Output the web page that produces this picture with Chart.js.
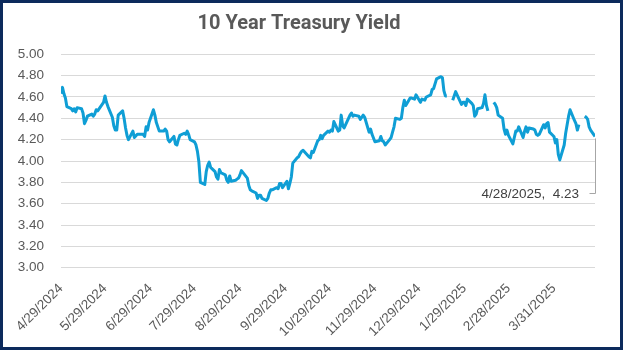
<!DOCTYPE html>
<html>
<head>
<meta charset="utf-8">
<script src="https://cdn.jsdelivr.net/npm/chart.js@4"></script>
<style>
  html, body { margin: 0; padding: 0; background: #fff; }
  #frame { width: 623px; height: 350px; box-sizing: border-box; border: 3px solid #0c2a5c; background: #fff; }
  canvas { display: block; }
</style>
</head>
<body>
<div id="frame"><canvas id="yieldChart" width="617" height="344"></canvas></div>
<script>
// first trading day of the sheet; each row below is one Mon-Fri week
const startDate = '4/29/2024';
const yields = [
  4.63, 4.69, 4.63, 4.59, 4.51,
  4.49, 4.47, 4.49, 4.46, 4.50,
  4.49, 4.45, 4.35, 4.38, 4.42,
  4.44, 4.42, 4.44, 4.48, 4.47,
  null, 4.55, 4.61, 4.55, 4.51,
  4.41, 4.33, 4.29, 4.29, 4.43,
  4.47, 4.40, 4.31, 4.24, 4.20,
  4.28, 4.22, null, 4.25, 4.25,
  4.25, 4.23, 4.32, 4.29, 4.36,
  4.48, 4.43, 4.36, null, 4.28,
  4.28, 4.30, 4.28, 4.20, 4.18,
  4.23, 4.16, 4.15, 4.20, 4.24,
  4.26, 4.25, 4.28, 4.25, 4.20,
  4.18, 4.15, 4.09, 3.99, 3.80,
  3.78, 3.90, 3.96, 3.99, 3.94,
  3.90, 3.85, 3.83, 3.92, 3.89,
  3.87, 3.82, 3.80, 3.86, 3.81,
  3.82, 3.83, 3.84, 3.87, 3.91,
  null, 3.84, 3.77, 3.73, 3.72,
  3.70, 3.65, 3.68, 3.68, 3.65,
  3.63, 3.65, 3.70, 3.73, 3.73,
  3.75, 3.74, 3.79, 3.79, 3.75,
  3.81, 3.74, 3.79, 3.85, 3.98,
  4.03, 4.04, 4.07, 4.09, 4.10,
  null, 4.04, 4.03, 4.09, 4.08,
  4.19, 4.20, 4.24, 4.21, 4.24,
  4.28, 4.27, 4.29, 4.28, 4.37,
  4.28, 4.29, 4.43, 4.33, 4.31,
  null, 4.43, 4.45, 4.42, 4.43,
  4.42, 4.39, 4.41, 4.43, 4.41,
  4.27, 4.30, 4.25, null, 4.18,
  4.19, 4.23, 4.19, 4.18, 4.15,
  4.20, 4.22, 4.27, 4.32, 4.40,
  4.39, 4.40, 4.50, 4.57, 4.52,
  4.59, 4.59, null, 4.58, 4.62,
  4.55, 4.58, null, 4.57, 4.60,
  4.62, 4.67, 4.68, null, 4.77,
  4.79, 4.78, 4.66, 4.61, 4.61,
  null, 4.57, 4.61, 4.65, 4.62,
  4.53, 4.55, 4.55, 4.52, 4.58,
  4.54, 4.52, 4.42, 4.44, 4.49,
  4.50, 4.54, 4.62, 4.52, 4.47,
  null, 4.55, 4.53, 4.50, 4.43,
  4.40, 4.30, 4.25, 4.29, 4.24,
  4.16, 4.22, 4.28, 4.28, 4.32,
  4.22, 4.28, 4.32, 4.27, 4.31,
  4.30, 4.29, 4.25, 4.24, 4.25,
  4.34, 4.31, 4.35, 4.36, 4.27,
  4.23, 4.17, 4.20, 4.06, 4.01,
  4.15, 4.26, 4.34, 4.42, 4.48,
  4.38, 4.35, 4.29, 4.34, null,
  4.42, 4.41, 4.39, 4.32, 4.29,
  4.23
];
// blank rows that break the line; other closed days are not in the sheet
const gapDates = ['1/20/2025', '2/17/2025', '4/18/2025'];
const tickLabels = ['4/29/2024', '5/29/2024', '6/29/2024', '7/29/2024', '8/29/2024', '9/29/2024',
  '10/29/2024', '11/29/2024', '12/29/2024', '1/29/2025', '2/28/2025', '3/31/2025'];

const DAY = 864e5;
const lineColor = '#0f9ed5';
const textGray = '#595959';
const tickFont = { family: 'Liberation Sans', size: 13.5 };

function parseDate(s) {
  const [m, d, y] = s.split('/').map(Number);
  return Date.UTC(y, m - 1, d);
}
function fmtDate(t) {
  const d = new Date(t);
  return (d.getUTCMonth() + 1) + '/' + d.getUTCDate() + '/' + d.getUTCFullYear();
}

const t0 = parseDate(startDate);
const points = [];
yields.forEach((v, i) => {
  const day = Math.floor(i / 5) * 7 + (i % 5);
  if (v === null && !gapDates.includes(fmtDate(t0 + day * DAY))) return;
  points.push({ x: day, y: v });
});
const lastPoint = points[points.length - 1];
const tickDays = tickLabels.map(s => Math.round((parseDate(s) - t0) / DAY));

// label + leader line for the most recent reading
const endLabel = {
  id: 'endLabel',
  afterDatasetsDraw(chart) {
    const meta = chart.getDatasetMeta(0);
    const el = meta.data[meta.data.length - 1];
    const ctx = chart.ctx;
    const lx = Math.round(el.x) + 0.5;
    const ey = Math.round(el.y + 56.8) + 0.5;
    ctx.save();
    ctx.strokeStyle = '#a6a6a6';
    ctx.lineWidth = 1;
    ctx.beginPath();
    ctx.moveTo(lx, el.y + 2);
    ctx.lineTo(lx, ey);
    ctx.lineTo(lx - 6, ey);
    ctx.stroke();
    ctx.font = '13.5px "Liberation Sans"';
    ctx.fillStyle = '#404040';
    ctx.textAlign = 'right';
    ctx.textBaseline = 'middle';
    ctx.fillText(fmtDate(t0 + lastPoint.x * DAY) + ',  ' + lastPoint.y.toFixed(2), lx - 16.5, ey + 1);
    ctx.restore();
  }
};

new Chart(document.getElementById('yieldChart'), {
  type: 'line',
  data: {
    datasets: [{
      label: '10 Year Treasury Yield',
      data: points,
      borderColor: lineColor,
      borderWidth: 3,
      borderJoinStyle: 'round',
      pointRadius: 0,
      pointHoverRadius: 0,
      tension: 0,
      spanGaps: false,
      fill: false
    }]
  },
  options: {
    responsive: false,
    animation: false,
    layout: { padding: { left: 0, right: 25, top: 0, bottom: 0 } },
    plugins: {
      legend: { display: false },
      tooltip: { enabled: false },
      title: {
        display: true,
        text: '10 Year Treasury Yield',
        color: textGray,
        font: { family: 'Roboto', size: 20, weight: 'bold' },
        padding: { top: 9, bottom: 18.3 }
      }
    },
    scales: {
      x: {
        type: 'linear',
        min: 0,
        max: lastPoint.x,
        afterBuildTicks: ax => { ax.ticks = tickDays.map(v => ({ value: v })); },
        afterFit: ax => { ax.height = 79.3; },
        ticks: {
          autoSkip: false,
          minRotation: 45,
          maxRotation: 45,
          padding: 5,
          color: textGray,
          font: tickFont,
          callback: (v, i) => tickLabels[i]
        },
        grid: { display: false },
        border: { display: false }
      },
      y: {
        min: 3,
        max: 5,
        afterFit: ax => { ax.width = 58; },
        ticks: {
          stepSize: 0.2,
          padding: 17,
          color: textGray,
          font: tickFont,
          callback: v => v.toFixed(2)
        },
        grid: { color: '#d9d9d9', drawTicks: false },
        border: { display: false }
      }
    }
  },
  plugins: [endLabel]
});
</script>
</body>
</html>
